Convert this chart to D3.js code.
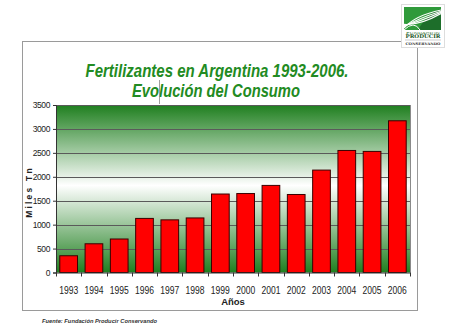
<!DOCTYPE html>
<html><head><meta charset="utf-8">
<script src="https://cdn.jsdelivr.net/npm/d3@7"></script>
<style>body{margin:0;background:#fff}svg{display:block}</style>
</head><body>
<script>
const years = ["1993","1994","1995","1996","1997","1998","1999","2000","2001","2002","2003","2004","2005","2006"];
const consumo = [350,600,700,1130,1100,1140,1640,1650,1820,1630,2140,2550,2530,3170];
const yTicks = [0,500,1000,1500,2000,2500,3000,3500];
const titleLines = ["Fertilizantes en Argentina 1993-2006.","Evolución del Consumo"];

const W=450,H=335;
const svg=d3.select("body").append("svg").attr("width",W).attr("height",H);
const defs=svg.append("defs");
const g=defs.append("linearGradient").attr("id","bg").attr("x1",0).attr("y1",0).attr("x2",0).attr("y2",1);
g.append("stop").attr("offset","0").attr("stop-color","#1f7f1f");
g.append("stop").attr("offset","0.48").attr("stop-color","#ffffff");
g.append("stop").attr("offset","1").attr("stop-color","#1f7f1f");

// outer frame
svg.append("rect").attr("x",22.5).attr("y",41.5).attr("width",395).attr("height",269)
  .attr("fill","#fff").attr("stroke","#9a9a9a").attr("stroke-width",1);

const L=56,R=410,T=105,B=272.5;
const x=d3.scaleBand().domain(years).range([L,R]).paddingInner(0.3).paddingOuter(0.15);
const y=d3.scaleLinear().domain([0,3500]).range([B,T]);

svg.append("rect").attr("x",L).attr("y",T).attr("width",R-L).attr("height",B-T).attr("fill","url(#bg)");
// gridlines
svg.append("g").selectAll("line").data(yTicks.filter(d=>d>0)).join("line")
  .attr("x1",L).attr("x2",R).attr("y1",d=>Math.round(y(d))+0.5).attr("y2",d=>Math.round(y(d))+0.5)
  .attr("stroke","#5a5a5a").attr("stroke-width",1);
svg.append("line").attr("x1",R+0.5).attr("x2",R+0.5).attr("y1",T).attr("y2",B).attr("stroke","#8a8a8a");

// bars
svg.append("g").selectAll("rect").data(consumo).join("rect")
  .attr("x",(d,i)=>x(years[i])).attr("width",x.bandwidth())
  .attr("y",d=>y(d)).attr("height",d=>B-y(d))
  .attr("fill","#ff0000").attr("stroke","#3a0000").attr("stroke-width",1);

// y axis
const ya=svg.append("g").attr("transform",`translate(${L},0)`)
  .call(d3.axisLeft(y).tickValues(yTicks).tickSize(3).tickPadding(3).tickFormat(d3.format("d")));
ya.select(".domain").attr("stroke","#333");
ya.selectAll(".tick line").attr("stroke","#333");
ya.selectAll("text").attr("font-family","Liberation Sans, Arial, sans-serif").attr("font-size",8.5)
  .attr("fill","#222").style("letter-spacing","-0.4px");

// x axis
const xa=svg.append("g").attr("transform",`translate(0,${B})`)
  .call(d3.axisBottom(x).tickSize(0).tickPadding(14));
xa.select(".domain").attr("stroke","#333");
xa.selectAll("text").attr("font-family","Liberation Sans, Arial, sans-serif").attr("font-size",10.5)
  .attr("fill","#222").attr("textLength",19).attr("lengthAdjust","spacingAndGlyphs");
// x tick marks at band boundaries
const bounds=years.map(yr=>x(yr)-x.step()*x.paddingInner()/2).concat([R]);
svg.append("g").selectAll("line").data(bounds).join("line")
  .attr("x1",d=>Math.round(d)+0.5).attr("x2",d=>Math.round(d)+0.5).attr("y1",B).attr("y2",B+4)
  .attr("stroke","#333");

// axis titles
svg.append("text").attr("x",233).attr("y",305).attr("text-anchor","middle")
  .attr("font-family","Liberation Sans, Arial, sans-serif").attr("font-weight","bold").attr("font-size",9.5)
  .attr("fill","#222").text("Años");
svg.append("text").attr("transform","translate(32,192) rotate(-90)").attr("text-anchor","middle")
  .attr("font-family","Liberation Sans, Arial, sans-serif").attr("font-weight","bold").attr("font-size",8.5)
  .attr("fill","#222").style("letter-spacing","2.2px").text("Miles Tn");

// title
const tt=svg.append("g").attr("font-family","Liberation Sans, Arial, sans-serif").attr("font-weight","bold")
  .attr("font-style","italic").attr("fill","#228b22").attr("text-anchor","middle");
tt.append("text").attr("x",217).attr("y",77).attr("font-size",18).attr("textLength",263)
  .attr("lengthAdjust","spacingAndGlyphs").text(titleLines[0]);
tt.append("text").attr("x",216).attr("y",97).attr("font-size",18).attr("textLength",168)
  .attr("lengthAdjust","spacingAndGlyphs").text(titleLines[1]);
svg.append("line").attr("x1",159.5).attr("x2",159.5).attr("y1",80).attr("y2",104).attr("stroke","#888").attr("stroke-width",0.8);

// footer
svg.append("text").attr("x",42).attr("y",323).attr("font-family","Liberation Sans, Arial, sans-serif")
  .attr("font-weight","bold").attr("font-style","italic").attr("font-size",6).attr("fill","#333")
  .attr("textLength",115).attr("lengthAdjust","spacingAndGlyphs").text("Fuente: Fundación Producir Conservando");

// logo
const lg=svg.append("g");
lg.append("rect").attr("x",401.5).attr("y",4.5).attr("width",43).attr("height",43).attr("fill","#fff").attr("stroke","#ddd");
defs.append("clipPath").attr("id","lc").append("rect").attr("x",404).attr("y",7).attr("width",37).attr("height",23);
const lgc=lg.append("g").attr("clip-path","url(#lc)");
lgc.append("rect").attr("x",404).attr("y",7).attr("width",37).attr("height",23).attr("fill","#2f9a3a");
lgc.append("path").attr("d","M418,30 Q428,12 441,9 L441,30 Z").attr("fill","#1d6e2a");
[10,16,22,28].forEach(r=>{
  lgc.append("path").attr("d",`M${404},${30-r*0.2} Q${412+r*0.3},${10+r*0.55} ${441},${8+r*0.2}`)
    .attr("fill","none").attr("stroke","#fff").attr("stroke-width",1.2);
});
lgc.append("path").attr("d","M404,30 Q414,20 420,30").attr("fill","none").attr("stroke","#fff").attr("stroke-width",1);
lg.append("text").attr("x",423).attr("y",33.5).attr("text-anchor","middle").attr("font-size",2.8)
  .attr("font-family","DejaVu Serif, serif").attr("fill","#2a6a2a").attr("textLength",34).attr("lengthAdjust","spacingAndGlyphs").text("FUNDACION");
lg.append("text").attr("x",423).attr("y",38).attr("text-anchor","middle").attr("font-size",5)
  .attr("font-family","DejaVu Serif, serif").attr("font-weight","bold").attr("fill","#1d5a2a").attr("textLength",35).attr("lengthAdjust","spacingAndGlyphs").text("PRODUCIR");
lg.append("line").attr("x1",405).attr("x2",441).attr("y1",40).attr("y2",40).attr("stroke","#999").attr("stroke-width",0.5);
lg.append("text").attr("x",423).attr("y",45).attr("text-anchor","middle").attr("font-size",3.6)
  .attr("font-family","DejaVu Serif, serif").attr("font-weight","bold").attr("fill","#333").attr("textLength",35).attr("lengthAdjust","spacingAndGlyphs").text("CONSERVANDO");
</script>
</body></html>
